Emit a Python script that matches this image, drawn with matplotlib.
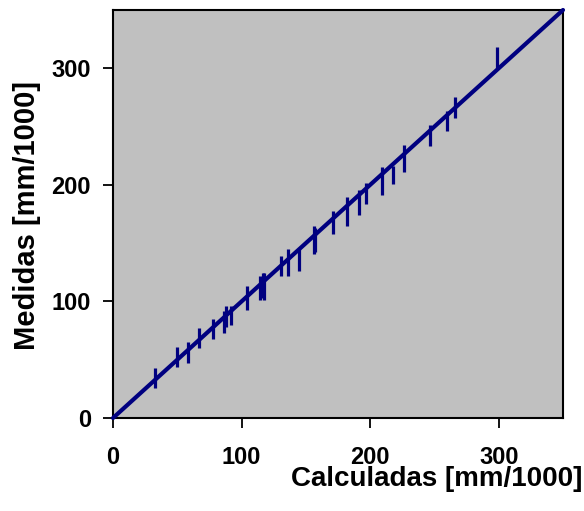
import matplotlib
matplotlib.use("Agg")
import matplotlib.pyplot as plt

# Data
calculadas = [33, 50, 58, 67, 78, 86, 87.5, 91.5, 104.5, 114, 116.5, 117.5,
              131, 136, 145, 156, 157, 171, 182, 191.5, 197, 209, 218, 226,
              246.5, 260, 266, 299]
medidas_low = [26, 44, 47, 60, 68, 73, 78, 80, 93, 101, 103, 101,
               122, 122, 126, 141, 142, 158, 165, 174, 184, 191, 201, 211,
               233, 246, 257, 300]
medidas_high = [43, 61, 65, 77, 85, 92, 96, 96, 113, 122, 124, 124,
                139, 145, 145, 165, 163, 178, 190, 196, 202, 215, 216, 234,
                251, 263, 275, 318]
line_x = [0, 350]
line_y = [0, 350]
ticks = [0, 100, 200, 300]

navy = "#000080"
plt.rcParams['font.family'] = ['Liberation Sans', 'DejaVu Sans']
plt.rcParams['font.weight'] = 'bold'

fig = plt.figure(figsize=(5.84, 5.11), dpi=100)
ax = fig.add_axes([113/584, 1 - 418/511, 450/584, 408/511])
ax.set_facecolor("#C0C0C0")

ax.plot(line_x, line_y, color=navy, lw=3.0, solid_capstyle='round', clip_on=False, zorder=3)
ax.vlines(calculadas, medidas_low, medidas_high, color=navy, lw=2.3, zorder=4)

ax.set_xlim(0, 350)
ax.set_ylim(0, 350)
ax.set_xticks(ticks)
ax.set_yticks(ticks)
ax.tick_params(axis='x', direction='out', length=7, width=1.3, pad=13, labelsize=17)
ax.tick_params(axis='y', direction='out', length=7, width=1.3, pad=9, labelsize=17)
for lab in ax.get_xticklabels() + ax.get_yticklabels():
    lab.set_fontweight('bold')
for s in ax.spines.values():
    s.set_linewidth(1.5)
    s.set_color('black')

fig.text(582/584, 1 - 479/511, "Calculadas [mm/1000]", ha='right', va='center',
         fontsize=20, fontweight='bold')
fig.text(27/584, 1 - 215/511, "Medidas [mm/1000]", ha='center', va='center',
         rotation=90, fontsize=21, fontweight='bold')

fig.savefig("out.png", dpi=100)
